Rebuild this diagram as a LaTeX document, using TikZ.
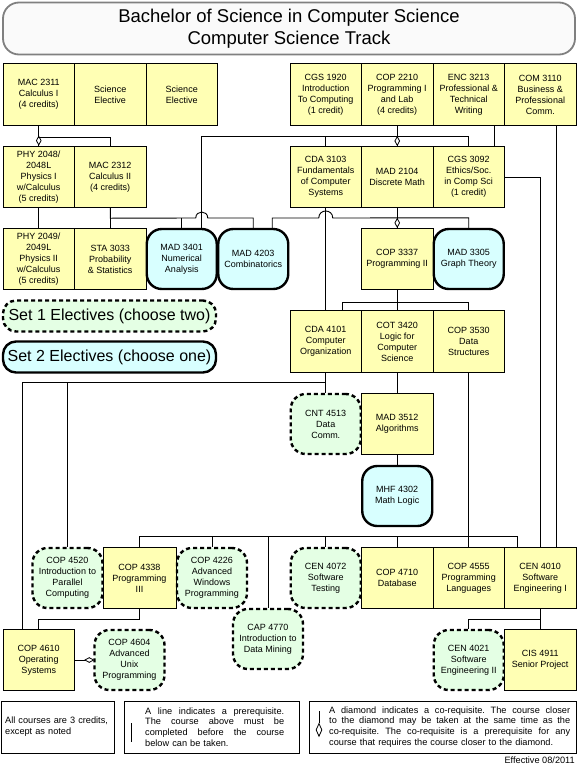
\documentclass[tikz,border=0pt]{standalone}
\usepackage{fontspec}
\setmainfont{Liberation Sans}
\usetikzlibrary{shapes.geometric,calc}
\definecolor{yellowc}{RGB}{255,255,180}
\definecolor{greenc}{RGB}{228,255,228}
\definecolor{cyanc}{RGB}{216,255,255}
\definecolor{tgray}{RGB}{128,128,128}
\newcommand{\fullline}[2]{\leavevmode\hbox to #1{#2}}
\begin{document}
\begin{tikzpicture}[x=1pt,y=-1pt,
  course/.style={minimum width=71.5pt,minimum height=61.5pt,inner sep=0pt,align=center,font=\fontsize{9}{11}\selectfont},
  ybox/.style={course,draw,fill=yellowc,line width=0.9pt},
  elec1/.style={course,minimum width=70pt,minimum height=60pt,draw,fill=greenc,line width=2.4pt,dash pattern=on 4pt off 3pt,rounded corners=15pt},
  elec2/.style={course,minimum width=70pt,minimum height=60pt,draw,fill=cyanc,line width=2.4pt,rounded corners=15pt},
  link/.style={line width=0.9pt},
  dv/.style={diamond,draw,fill=white,inner sep=0pt,minimum width=5pt,minimum height=9pt,line width=0.8pt},
  dh/.style={diamond,draw,fill=white,inner sep=0pt,minimum width=9pt,minimum height=5pt,line width=0.8pt},
  footbox/.style={draw,line width=0.9pt,inner sep=0pt,minimum height=52pt},
  foottext/.style={font=\fontsize{9.2}{10.8}\selectfont,inner sep=0pt,align=left,anchor=west},
]
\useasboundingbox (0,0) rectangle (578,769);

% title
\node[draw=tgray,line width=1.8pt,fill=gray!4,rounded corners=16pt,minimum width=572pt,minimum height=52pt,inner sep=0pt,align=center,font=\fontsize{18.5}{22.5}\selectfont] (title) at (289,28.5) {Bachelor of Science in Computer Science\\Computer Science Track};

% row 1
\node[ybox] (mac2311) at (38.75,94.5) {MAC 2311\\Calculus I\\(4 credits)};
\node[ybox] (scie1) at (110.25,94.5) {Science\\Elective};
\node[ybox] (scie2) at (181.75,94.5) {Science\\Elective};
\node[ybox] (cgs1920) at (325.75,94.5) {CGS 1920\\Introduction\\To Computing\\(1 credit)};
\node[ybox] (cop2210) at (397.25,94.5) {COP 2210\\Programming I\\and Lab\\(4 credits)};
\node[ybox] (enc3213) at (468.75,94.5) {ENC 3213\\Professional \&\\Technical\\Writing};
\node[ybox] (com3110) at (540.25,94.5) {COM 3110\\Business \&\\Professional\\Comm.};

% row 2
\node[ybox] (phy2048) at (38.75,177) {PHY 2048/\\2048L\\Physics I\\w/Calculus\\(5 credits)};
\node[ybox] (mac2312) at (110.25,177) {MAC 2312\\Calculus II\\(4 credits)};
\node[ybox] (cda3103) at (325.75,177) {CDA 3103\\Fundamentals\\of Computer\\Systems};
\node[ybox] (mad2104) at (397.25,177) {MAD 2104\\Discrete Math};
\node[ybox] (cgs3092) at (468.75,177) {CGS 3092\\Ethics/Soc.\\in Comp Sci\\(1 credit)};

% row 3
\node[ybox] (phy2049) at (38.75,259) {PHY 2049/\\2049L\\Physics II\\w/Calculus\\(5 credits)};
\node[ybox] (sta3033) at (110.25,259) {STA 3033\\Probability\\\& Statistics};
\node[elec2] (mad3401) at (181.75,259) {MAD 3401\\Numerical\\Analysis};
\node[elec2] (mad4203) at (253.25,259) {MAD 4203\\Combinatorics};
\node[ybox] (cop3337) at (397.25,259) {COP 3337\\Programming II};
\node[elec2] (mad3305) at (468.75,259) {MAD 3305\\Graph Theory};

% legends
\node[elec1,minimum width=213pt,minimum height=31pt,rounded corners=13pt,font=\fontsize{16}{19}\selectfont] (leg1) at (109.5,316) {Set 1 Electives (choose two)};
\node[elec2,minimum width=213pt,minimum height=31pt,rounded corners=13pt,font=\fontsize{16}{19}\selectfont] (leg2) at (109.5,357) {Set 2 Electives (choose one)};

% row 4
\node[ybox] (cda4101) at (325.75,341.5) {CDA 4101\\Computer\\Organization};
\node[ybox] (cot3420) at (397.25,341.5) {COT 3420\\Logic for\\Computer\\Science};
\node[ybox] (cop3530) at (468.75,341.5) {COP 3530\\Data\\Structures};

% row 5, 6
\node[elec1] (cnt4513) at (325.75,424) {CNT 4513\\Data\\Comm.};
\node[ybox] (mad3512) at (397.25,424) {MAD 3512\\Algorithms};
\node[elec2] (mhf4302) at (397.25,496) {MHF 4302\\Math Logic};

% row 7
\node[elec1] (cop4520) at (67.5,578) {COP 4520\\Introduction to\\Parallel\\Computing};
\node[ybox,minimum width=73pt] (cop4338) at (139.5,578) {COP 4338\\Programming\\III};
\node[elec1] (cop4226) at (212,578) {COP 4226\\Advanced\\Windows\\Programming};
\node[elec1] (cap4770) at (268,639) {CAP 4770\\Introduction to\\Data Mining};
\node[elec1] (cen4072) at (325.75,578) {CEN 4072\\Software\\Testing};
\node[ybox] (cop4710) at (397.25,578) {COP 4710\\Database};
\node[ybox] (cop4555) at (468.75,578) {COP 4555\\Programming\\Languages};
\node[ybox] (cen4010) at (540.25,578) {CEN 4010\\Software\\Engineering I};

% row 8
\node[ybox] (cop4610) at (38.75,660) {COP 4610\\Operating\\Systems};
\node[elec1] (cop4604) at (129.5,660) {COP 4604\\Advanced\\Unix\\Programming};
\node[elec1] (cen4021) at (468.75,660) {CEN 4021\\Software\\Engineering II};
\node[ybox] (cis4911) at (540.25,660) {CIS 4911\\Senior Project};

% connectors
\draw[link] (mac2311.south) -- node[dv,pos=0.74]{} (phy2048.north);
\draw[link] (mac2311.south) -- ++(0,12) -| (mac2312.north);
\draw[link] (phy2048.south) -- (phy2049.north);
\draw[link] (mac2312.south) -- (sta3033.north);
\draw[link] (mac2312.south) -- ++(0,10) -- (195.75,218) .. controls (195.75,210) and (207.75,210) .. (207.75,218) -| (mad4203.north);
\draw[link] (mad3401.north) -- ++(0,-10);

\draw[link] (cop2210.south) -- node[dv,pos=0.76]{} (mad2104.north);
\draw[link] (cgs3092.north) -- ++(0,-9) -| ($(mad3401.north)+(20,0)$);
\draw[link] (cda3103.north) -- ++(0,-9);

\draw[link] ($(enc3213.south)+(26,0)$) -- ($(cgs3092.north)+(26,0)$);
\draw[link] (cgs3092.east) -| (cen4010.north);
\draw[link] ($(com3110.south)+(16,0)$) -- ($(cen4010.north)+(16,0)$);

\draw[link] (mad2104.south) -- node[dv,pos=0.75]{} (cop3337.north);
\draw[link] (mad3305.north) -- ++(0,-10) -- (332.75,218) .. controls (332.75,208.7) and (318.75,208.7) .. (318.75,218) -| ($(mad4203.north)+(19,0)$);

\draw[link] (cda3103.south) -- (cda4101.north);
\draw[link] (cop3337.south) -- (cot3420.north);
\draw[link] ($(cda4101.north)+(16.5,0)$) -- ++(0,-8) -| (cop3530.north);

\draw[link] (cda4101.south) -- (cnt4513.north);
\draw[link] (cda4101.south) -- ++(0,10) coordinate (j382) -| ($(cop4610.north)+(-16.75,0)$);
\draw[link] (cop4520.north) -- (cop4520.north |- j382);

\draw[link] (cot3420.south) -- (mad3512.north);
\draw[link] (mad3512.south) -- (mhf4302.north);

\draw[link] (cop3530.south) -- (cop4555.north);
\draw[link] (cop4338.north) -- ++(0,-10) coordinate (j537) -| ($(cen4010.north)+(-23.25,0)$);
\draw[link] (cop4226.north) -- (cop4226.north |- j537);
\draw[link] (cap4770.north) -- (cap4770.north |- j537);
\draw[link] (cen4072.north) -- (cen4072.north |- j537);
\draw[link] (cop4710.north) -- (cop4710.north |- j537);

\draw[link] (cop4338.south) -- ++(0,10) -| (cop4610.north);
\draw[link] (cop4610.east) -- node[dh,pos=0.78]{} (cop4604.west);
\draw[link] (cen4010.south) -- (cis4911.north);
\draw[link] (cen4021.north) -- ++(0,-9) -| (cen4010.south);

% footer
\node[footbox,minimum width=113pt] (f1) at (57.5,727) {};
\node[foottext,text width=105pt] (f1t) at (5,727) {All courses are 3 credits,\\except as noted};
\node[footbox,minimum width=175pt] (f2) at (211.5,727) {};
\draw[link] (131,723) -- (131,742);
\node[foottext,text width=139pt] (f2t) at (145,727) {\fullline{139pt}{A\hfill line\hfill indicates\hfill a\hfill prerequisite.}\\\fullline{139pt}{The\hfill course\hfill above\hfill must\hfill be}\\\fullline{139pt}{completed\hfill before\hfill the\hfill course}\\below can be taken.};
\node[footbox,minimum width=267pt] (f3) at (442.5,727) {};
\draw[link] (319,711) -- (319,723) node[dv,anchor=north,minimum height=13pt,minimum width=6pt] (d3) {};
\node[foottext,text width=242pt] (f3t) at (329,727) {\fullline{241pt}{A\hfill diamond\hfill indicates\hfill a\hfill co-requisite.\hfill The\hfill course\hfill closer}\\\fullline{241pt}{to\hfill the\hfill diamond\hfill may\hfill be\hfill taken\hfill at\hfill the\hfill same\hfill time\hfill as\hfill the}\\\fullline{241pt}{co-requisite.\hfill The\hfill co-requisite\hfill is\hfill a\hfill prerequisite\hfill for\hfill any}\\course that requires the course closer to the diamond.};
\node[font=\fontsize{9.2}{11}\selectfont,anchor=east,inner sep=0pt] (eff) at (575,760) {Effective 08/2011};
\end{tikzpicture}
\end{document}
